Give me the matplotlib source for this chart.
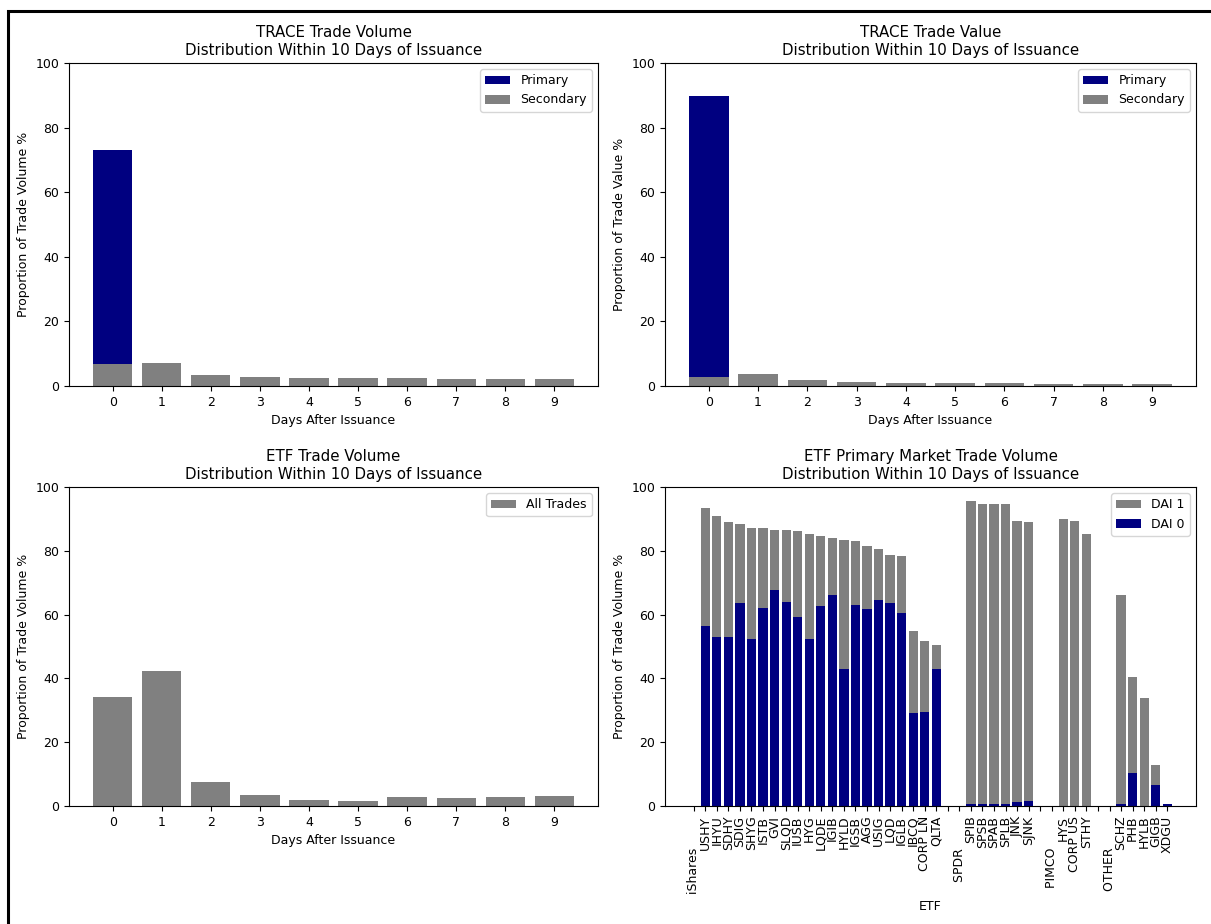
import matplotlib
matplotlib.use("Agg")
import matplotlib.pyplot as plt
from matplotlib.patches import Rectangle
import numpy as np

W, H = 1211, 924

days = list(range(10))

# TRACE trade volume share (%) by day after issuance
vol_secondary = [6.7, 7.2, 3.3, 2.9, 2.5, 2.5, 2.5, 2.2, 2.2, 2.2]
vol_primary = [66.3, 0, 0, 0, 0, 0, 0, 0, 0, 0]

# TRACE trade value share (%)
val_secondary = [2.9, 3.7, 1.9, 1.3, 0.9, 0.9, 0.9, 0.5, 0.5, 0.5]
val_primary = [86.8, 0, 0, 0, 0, 0, 0, 0, 0, 0]

# ETF trade volume share (%)
etf_all = [34.1, 42.3, 7.5, 3.5, 2.0, 1.6, 2.8, 2.4, 2.8, 3.1]

# ETF primary market volume by fund, grouped by issuer
issuers = ["iShares", "SPDR", "PIMCO", "OTHER"]
etf_names = ["iShares", "USHY", "IHYU", "SDHY", "SDIG", "SHYG", "ISTB", "GVI",
             "SLQD", "IUSB", "HYG", "LQDE", "IGIB", "HYLD", "IGSB", "AGG",
             "USIG", "LQD", "IGLB", "IBCQ", "CORP LN", "QLTA",
             "", "SPDR", "SPIB", "SPSB", "SPAB", "SPLB", "JNK", "SJNK",
             "", "PIMCO", "HYS", "CORP US", "STHY",
             "", "OTHER", "SCHZ", "PHB", "HYLB", "GIGB", "XDGU"]
etf_total = [0, 93.5, 90.8, 88.9, 88.5, 87.3, 87.0, 86.6, 86.6, 86.1, 85.4,
             84.6, 83.9, 83.4, 83.0, 81.5, 80.7, 78.8, 78.3, 54.9, 51.7, 50.6,
             0, 0, 95.5, 94.8, 94.8, 94.8, 89.3, 88.9,
             0, 0, 90.1, 89.3, 85.4,
             0, 0, 66.3, 40.4, 33.7, 12.7, 0.5]
etf_dai0 = [0, 56.5, 52.9, 52.9, 63.5, 52.2, 62.0, 67.8, 63.9, 59.3, 52.5,
            62.7, 66.3, 42.8, 63.1, 61.6, 64.7, 63.5, 60.4, 29.2, 29.6, 42.8,
            0, 0, 0.5, 0.5, 0.5, 0.5, 1.2, 1.7,
            0, 0, 0, 0, 0,
            0, 0, 0.5, 10.4, 0, 6.5, 0.5]
etf_dai1 = [t - d for t, d in zip(etf_total, etf_dai0)]

NAVY = "#000080"
GREY = "#808080"

plt.rcParams["font.family"] = "DejaVu Sans"
plt.rcParams["font.size"] = 9
plt.rcParams["axes.titlesize"] = 10.8
plt.rcParams["axes.linewidth"] = 0.8


def box(left, top, right, bottom):
    return [left / W, 1 - bottom / H, (right - left) / W, (bottom - top) / H]


fig = plt.figure(figsize=(W / 100, H / 100), dpi=100)
ax1 = fig.add_axes(box(69, 63, 598, 386))
ax2 = fig.add_axes(box(665, 63, 1196, 386))
ax3 = fig.add_axes(box(69, 487, 598, 806))
ax4 = fig.add_axes(box(665, 487, 1196, 806))

subtitle = "\nDistribution Within 10 Days of Issuance"

ax1.bar(days, vol_primary, bottom=vol_secondary, color=NAVY, label="Primary")
ax1.bar(days, vol_secondary, color=GREY, label="Secondary")
ax1.set_title("TRACE Trade Volume" + subtitle)
ax1.set_ylabel("Proportion of Trade Volume %")

ax2.bar(days, val_primary, bottom=val_secondary, color=NAVY, label="Primary")
ax2.bar(days, val_secondary, color=GREY, label="Secondary")
ax2.set_title("TRACE Trade Value" + subtitle)
ax2.set_ylabel("Proportion of Trade Value %")

ax3.bar(days, etf_all, color=GREY, label="All Trades")
ax3.set_title("ETF Trade Volume" + subtitle)
ax3.set_ylabel("Proportion of Trade Volume %")

for ax in (ax1, ax2, ax3):
    ax.set_xticks(days)
    ax.set_xlabel("Days After Issuance")

# issuer headers get padded so they sit below the fund tickers
tick_text = [n + " " * 8 if n in issuers else n for n in etf_names]

x = np.arange(len(etf_names))
ax4.bar(x, etf_dai1, bottom=etf_dai0, color=GREY, label="DAI 1")
ax4.bar(x, etf_dai0, color=NAVY, label="DAI 0")
ax4.set_xticks(x)
ax4.set_xticklabels(tick_text, rotation=90)
ax4.set_title("ETF Primary Market Trade Volume" + subtitle)
ax4.set_ylabel("Proportion of Trade Volume %")
ax4.set_xlabel("ETF")

for ax in (ax1, ax2, ax3, ax4):
    ax.set_ylim(0, 100)
    ax.legend(loc="upper right")

# frame along the top and left edges
fig.add_artist(Rectangle((8 / W, -0.5), 2, 0.5 + 1 - 11 / H, transform=fig.transFigure,
                         fill=False, edgecolor="black", linewidth=2.2))

fig.savefig("out.png", dpi=100)
plt.close(fig)
